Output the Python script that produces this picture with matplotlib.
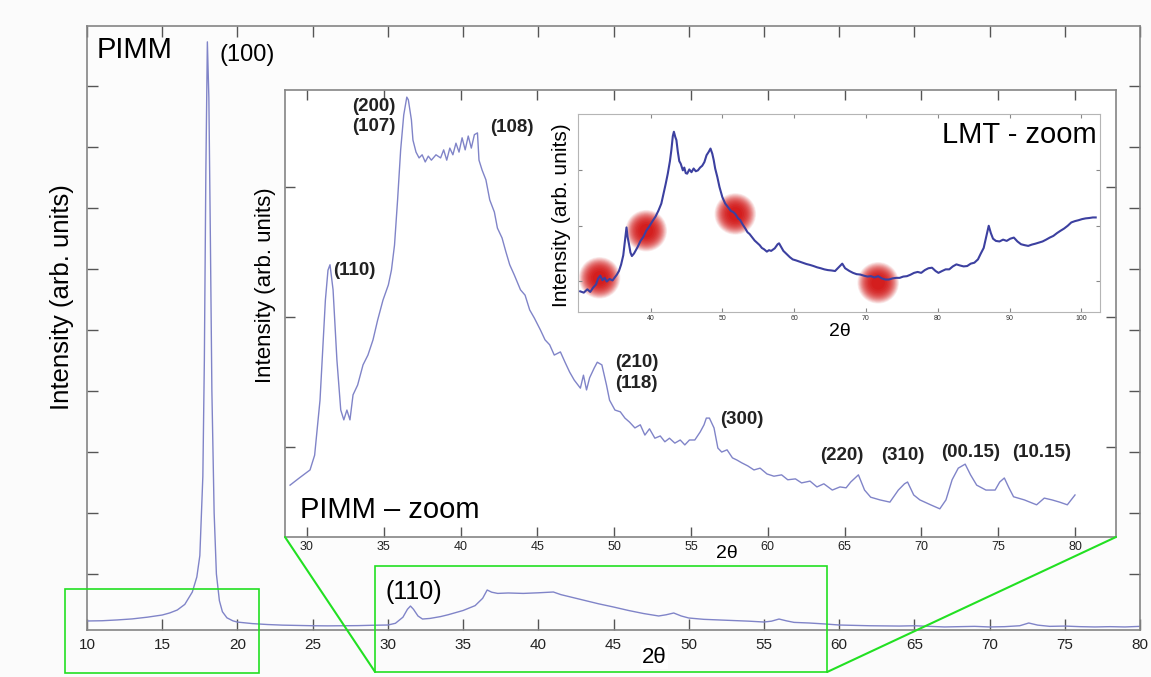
import matplotlib.pyplot as plt
from matplotlib.patches import Rectangle, ConnectionPatch

plt.rcParams['font.family'] = ['Liberation Sans', 'DejaVu Sans']

# ==========================
# Data: main PIMM pattern
# ==========================
main_2theta = [10, 11, 12, 13, 14, 15, 15.5, 16, 16.5, 17, 17.3, 17.5, 17.7, 17.8, 17.9,
               18.0, 18.1, 18.2, 18.3, 18.45, 18.6, 18.8, 19.0, 19.3, 19.7, 20, 21, 22,
               23, 24, 25, 26, 27, 28, 29, 30, 30.5, 31.0, 31.3, 31.5, 31.7, 32.0, 32.3,
               32.8, 33.5, 34, 35, 35.8, 36.3, 36.6, 36.9, 37.3, 38, 39, 40, 41, 41.5,
               42, 43, 44, 45, 46, 47, 48, 48.5, 49, 49.5, 50, 51, 52, 53, 54, 55, 55.5,
               56, 56.5, 57, 58, 59, 60, 62, 64, 65, 66, 67, 68, 69, 70, 71, 72, 72.6,
               73.2, 74, 75, 76, 77, 78, 79, 80]
main_int = [228, 232, 245, 262, 290, 326, 360, 408, 500, 703, 950, 1300, 2600, 4500, 7600,
            9720, 8800, 6500, 4000, 2000, 1000, 560, 380, 280, 230, 210, 185, 170,
            160, 155, 150, 148, 150, 152, 158, 162, 190, 290, 420, 473, 420, 310, 260,
            270, 300, 330, 400, 480, 600, 736, 700, 680, 687, 680, 690, 703, 660,
            630, 570, 510, 457, 400, 350, 310, 330, 359, 310, 277, 255, 245, 235, 225, 211, 225,
            260, 230, 205, 195, 180, 162, 150, 145, 150, 140, 130, 135, 140, 130, 135, 150, 195,
            160, 140, 145, 135, 130, 135, 130, 140]

# ==========================
# Data: PIMM zoom
# ==========================
zoom_2theta = [28.9, 29.5, 30.2, 30.5, 30.85, 31.2, 31.37, 31.5, 31.7, 31.95, 32.2, 32.4,
               32.6, 32.8, 33.0, 33.3, 33.65, 33.97, 34.3, 34.6, 34.95, 35.3, 35.5, 35.7,
               35.9, 36.1, 36.3, 36.5, 36.6, 36.8, 36.9, 37.1, 37.3, 37.5, 37.7, 37.9,
               38.1, 38.4, 38.7, 38.9, 39.1, 39.3, 39.5, 39.7, 39.9, 40.1, 40.3, 40.5,
               40.7, 40.9, 41.1, 41.2, 41.4, 41.65, 41.9, 42.2, 42.4, 42.7, 42.95, 43.2,
               43.5, 43.9, 44.2, 44.5, 44.8, 45.2, 45.5, 45.8, 46.1, 46.5, 46.8, 47.1,
               47.4, 47.8, 48.0, 48.2, 48.4, 48.7, 48.9, 49.2, 49.5, 49.7, 50.05, 50.4,
               50.7, 51.0, 51.35, 51.7, 52.0, 52.3, 52.65, 53.0, 53.3, 53.6, 53.95, 54.3,
               54.6, 54.9, 55.25, 55.6, 55.85, 56.0, 56.2, 56.5, 56.75, 57.0, 57.35, 57.7,
               58.0, 58.3, 58.7, 59.1, 59.5, 59.95, 60.4, 60.9, 61.3, 61.8, 62.2, 62.75,
               63.2, 63.65, 64.2, 64.7, 65.1, 65.4, 65.9, 66.3, 66.7, 67.3, 67.95, 68.5,
               68.9, 69.1, 69.5, 69.9, 70.6, 71.2, 71.6, 72.0, 72.4, 72.85, 73.2, 73.6,
               74.2, 74.8, 75.1, 75.4, 75.7, 76.0, 76.7, 77.5, 78.0, 78.5, 79.0, 79.5, 80.0]
zoom_int = [11.6, 13.2, 15.0, 18.3, 30.6, 53.0, 59.7, 60.9, 55.3, 39.6, 28.4, 26.2,
            28.4, 26.2, 31.8, 34.0, 38.5, 40.7, 44.1, 48.5, 53.0, 56.4, 59.7, 65.3,
            75.4, 86.6, 94.4, 98.4, 97.8, 93.3, 88.8, 86.1, 84.8, 85.5, 83.9, 85.2,
            84.3, 85.5, 84.8, 86.6, 84.3, 87.0, 85.5, 88.1, 86.1, 89.3, 86.6, 89.7,
            87.0, 90.0, 90.4, 84.3, 82.1, 79.9, 75.4, 72.7, 69.1, 66.9, 63.8, 60.9,
            58.6, 55.3, 54.1, 50.8, 49.0, 46.3, 44.1, 43.0, 40.7, 41.4, 39.1, 36.9,
            35.1, 33.3, 36.2, 32.9, 35.6, 37.8, 39.1, 38.5, 34.0, 30.6, 28.4, 28.0,
            26.6, 25.7, 24.4, 25.1, 22.8, 24.2, 22.1, 22.6, 21.3, 22.1, 21.0, 21.7,
            20.6, 21.7, 21.7, 23.5, 25.1, 26.6, 26.6, 24.4, 19.9, 19.0, 19.5, 17.7,
            17.2, 16.6, 15.9, 15.0, 15.4, 14.1, 13.6, 13.9, 12.8, 13.0, 12.1, 12.5,
            11.2, 11.9, 10.5, 11.2, 11.0, 12.3, 13.9, 10.5, 8.9, 8.3, 7.8, 10.5,
            11.9, 12.3, 9.4, 8.3, 7.2, 6.3, 8.3, 12.8, 15.4, 16.3, 13.9, 11.6,
            10.5, 10.5, 12.3, 13.2, 11.0, 9.0, 8.3, 7.2, 8.7, 8.3, 7.8, 7.2, 9.4]

zoom_labels = ['(200)\n(107)', '(108)', '(110)', '(210)\n(118)', '(300)',
               '(220)', '(310)', '(00.15)', '(10.15)']
zoom_label_x = [32.93, 41.9, 31.7, 50.05, 56.9, 63.4, 67.4, 71.3, 75.9]
zoom_label_y = [94.0, 91.5, 59.7, 36.7, 26.2, 18.3, 18.3, 18.8, 19.0]

# ==========================
# Data: LMT zoom
# ==========================
lmt_2theta = [30.2, 30.7, 31.2, 31.6, 32.0, 32.4, 32.7, 33.0, 33.3, 33.6, 33.9, 34.3,
              34.7, 35.0, 35.3, 35.6, 35.9, 36.2, 36.5, 36.65, 36.8, 37.0, 37.2, 37.4,
              37.7, 37.9, 38.2, 38.6, 39.0, 39.4, 39.8, 40.3, 40.7, 41.1, 41.5, 41.8,
              42.1, 42.4, 42.7, 42.9, 43.1, 43.25, 43.45, 43.6, 43.8, 44.0, 44.2, 44.5,
              44.7, 44.9, 45.1, 45.4, 45.7, 46.0, 46.3, 46.6, 46.9, 47.2, 47.5, 47.8,
              48.1, 48.35, 48.6, 48.8, 49.0, 49.3, 49.6, 50.0, 50.4, 50.8, 51.2, 51.5,
              51.8, 52.2, 52.5, 52.8, 53.2, 53.5, 53.8, 54.2, 54.5, 54.8, 55.2, 55.5,
              55.8, 56.2, 56.5, 56.8, 57.3, 57.7, 57.9, 58.2, 58.5, 59.0, 59.4, 59.8,
              60.3, 60.8, 61.2, 61.7, 62.2, 62.7, 63.2, 63.7, 64.2, 64.7, 65.2, 65.7,
              66.2, 66.7, 67.1, 67.7, 68.2, 68.7, 69.2, 69.7, 70.2, 70.7, 71.2, 71.7,
              72.2, 72.7, 73.2, 73.7, 74.2, 74.7, 75.2, 75.7, 76.2, 76.7, 77.2, 77.7,
              78.2, 78.7, 79.2, 79.7, 80.1, 80.6, 81.1, 81.6, 82.1, 82.6, 83.1, 83.6,
              84.1, 84.6, 85.1, 85.6, 86.0, 86.4, 86.8, 87.1, 87.4, 87.7, 88.1, 88.6,
              89.1, 89.6, 90.1, 90.6, 91.1, 91.6, 92.1, 92.6, 93.1, 93.6, 94.1, 94.6,
              95.1, 95.6, 96.1, 96.6, 97.1, 97.6, 98.1, 98.6, 99.1, 99.6, 100.1, 100.6,
              101.1, 101.6, 102.0]
lmt_int = [14.5, 13.8, 15.6, 14.2, 16.5, 18.2, 21.5, 23.0, 20.5, 21.8, 19.8, 21.2,
           20.4, 22.0, 23.5, 25.5, 29.0, 34.0, 44.0, 49.1, 44.0, 40.0, 35.5, 33.6,
           35.0, 36.4, 38.5, 41.8, 44.0, 47.3, 49.5, 52.7, 55.0, 58.2, 62.0, 67.3,
           72.5, 78.2, 85.0, 91.0, 98.5, 100.9, 98.0, 96.4, 90.0, 85.0, 83.6, 80.0,
           81.5, 78.5, 78.2, 80.5, 79.0, 81.0, 79.5, 80.0, 81.5, 82.5, 84.5, 88.2,
           90.0, 91.8, 89.0, 85.5, 81.0, 76.4, 71.0, 65.5, 62.0, 60.0, 58.0, 57.5,
           56.4, 54.0, 53.0, 50.9, 48.5, 46.5, 45.5, 43.5, 42.0, 40.9, 39.5, 38.0,
           37.3, 36.0, 36.8, 36.4, 37.8, 40.0, 40.5, 38.5, 36.4, 34.5, 33.0, 31.8,
           31.2, 30.5, 30.0, 29.3, 28.8, 28.2, 27.5, 27.0, 26.4, 26.0, 25.8, 25.5,
           27.5, 29.5, 27.0, 25.5, 24.5, 23.8, 23.6, 23.0, 22.5, 22.7, 22.0, 22.7,
           21.5, 20.9, 20.9, 21.5, 21.8, 21.8, 22.5, 22.7, 23.5, 24.5, 25.0, 24.5,
           26.0, 27.0, 27.3, 25.5, 24.5, 25.5, 26.4, 26.4, 28.0, 29.1, 28.5, 28.0,
           28.2, 29.5, 30.0, 31.8, 35.0, 38.0, 45.0, 50.0, 46.0, 43.0, 41.8, 41.5,
           42.5, 41.8, 43.0, 43.6, 41.5, 40.0, 39.5, 39.1, 39.8, 40.3, 40.9, 41.5,
           42.5, 43.6, 44.5, 46.0, 47.3, 48.5, 50.0, 51.8, 52.5, 53.0, 53.6, 54.0,
           54.2, 54.5, 54.5]

# highlighted spots on the LMT curve
spot_2theta = [32.9, 39.4, 51.8, 71.7]
spot_int = [21.8, 47.3, 56.4, 19.1]

# zoom boxes on the main pattern (2theta from, 2theta to, intensity top, intensity bottom)
box_left = [8.54, 21.44, 752, -625]
box_right = [29.15, 59.2, 1129, -608]

main_ticks = [10, 15, 20, 25, 30, 35, 40, 45, 50, 55, 60, 65, 70, 75, 80]
zoom_ticks = [30, 35, 40, 45, 50, 55, 60, 65, 70, 75, 80]
lmt_ticks = [40, 50, 60, 70, 80, 90, 100]

line_col = '#8084c8'
spine_col = '#858585'
green = '#22e022'

# ==========================
# Figure
# ==========================
fig = plt.figure(figsize=(11.51, 6.77), dpi=100)
fig.patch.set_facecolor('#fbfbfb')

ax = fig.add_axes([0.0756, 0.0694, 0.9149, 0.8922])
ax.set_facecolor('#fcfcfc')
ax.plot(main_2theta, main_int, color=line_col, lw=1.0)
ax.set_xlim(10, 80)
ax.set_ylim(80, 9980)
ax.set_xticks(main_ticks)
ax.set_yticks(range(1000, 10000, 1000))
ax.set_yticklabels([])
ax.tick_params(direction='in', length=8, width=1, color='#555', top=True, right=True,
               labelsize=11, labelcolor='#222', pad=6)
for s in ax.spines.values():
    s.set_color(spine_col)
    s.set_linewidth(1.2)
ax.text(-0.0237, 0.551, 'Intensity (arb. units)', transform=ax.transAxes, rotation=90,
        ha='center', va='center', fontsize=18.5)
ax.text(0.539, -0.045, '2θ', transform=ax.transAxes, ha='center', va='center', fontsize=16,
        bbox=dict(facecolor='white', edgecolor='none', pad=1))
ax.text(0.0095, 0.960, 'PIMM', transform=ax.transAxes, ha='left', va='center', fontsize=21)
ax.text(0.126, 0.952, '(100)', transform=ax.transAxes, ha='left', va='center', fontsize=17)
ax.text(0.283, 0.063, '(110)', transform=ax.transAxes, ha='left', va='center', fontsize=18)

for b in (box_left, box_right):
    ax.add_patch(Rectangle((b[0], b[3]), b[1] - b[0], b[2] - b[3], fill=False,
                           edgecolor=green, lw=1.2, clip_on=False, zorder=5))

# ==========================
# Inset 1: PIMM zoom
# ==========================
ax1 = fig.add_axes([0.2476, 0.2068, 0.7220, 0.6603])
ax1.set_facecolor('white')
ax1.plot(zoom_2theta, zoom_int, color=line_col, lw=1.0)
ax1.set_xlim(28.57, 82.67)
ax1.set_ylim(0, 100)
ax1.set_xticks(zoom_ticks)
ax1.set_yticks([20.1, 49.2, 78.3])
ax1.set_yticklabels([])
ax1.tick_params(direction='in', length=7, width=1, color='#555', top=True, right=True,
                labelsize=9, labelcolor='#222', pad=3)
for s in ax1.spines.values():
    s.set_color(spine_col)
    s.set_linewidth(1.2)
ax1.text(-0.024, 0.564, 'Intensity (arb. units)', transform=ax1.transAxes, rotation=90,
         ha='center', va='center', fontsize=16)
ax1.text(0.532, -0.036, '2θ', transform=ax1.transAxes, ha='center', va='center', fontsize=14,
         bbox=dict(facecolor='white', edgecolor='none', pad=1))
ax1.text(0.018, 0.060, 'PIMM – zoom', transform=ax1.transAxes, ha='left', va='center',
         fontsize=21)
for lab, lx, ly in zip(zoom_labels, zoom_label_x, zoom_label_y):
    ax1.text(lx, ly, lab, ha='left', va='center', fontsize=13.5, fontweight='bold',
             color='#222', linespacing=1.25)

# ==========================
# Inset 2: LMT zoom
# ==========================
ax2 = fig.add_axes([0.5022, 0.5391, 0.4535, 0.2925])
ax2.set_facecolor('white')
for k in range(14):
    ax2.scatter(spot_2theta, spot_int, s=900 - 62 * k, color='#d00000',
                alpha=0.07 + 0.01 * k, edgecolors='none', zorder=1)
ax2.plot(lmt_2theta, lmt_int, color='#3c40a0', lw=1.5, zorder=2)
ax2.set_xlim(29.9, 102.6)
ax2.set_ylim(3.3, 110.5)
ax2.set_xticks(lmt_ticks)
ax2.set_yticks([20, 50, 80])
ax2.set_yticklabels([])
ax2.tick_params(direction='in', length=3, width=0.8, color='#888', top=True, right=True,
                labelsize=5, labelcolor='#333', pad=2)
for s in ax2.spines.values():
    s.set_color('#b5b5b5')
    s.set_linewidth(0.8)
ax2.text(-0.031, 0.49, 'Intensity (arb. units)', transform=ax2.transAxes, rotation=90,
         ha='center', va='center', fontsize=15)
ax2.text(0.502, -0.10, '2θ', transform=ax2.transAxes, ha='center', va='center', fontsize=14)
ax2.text(0.994, 0.894, 'LMT - zoom', transform=ax2.transAxes, ha='right', va='center',
         fontsize=21)

# ==========================
# Connection lines
# ==========================
for corner, bx in ((0, box_right[0]), (1, box_right[1])):
    con = ConnectionPatch(xyA=(corner, 0), coordsA=ax1.transAxes,
                          xyB=(bx, box_right[3]), coordsB=ax.transData,
                          color=green, lw=1.5)
    fig.add_artist(con)

plt.savefig('out.png', dpi=100, facecolor=fig.get_facecolor())
